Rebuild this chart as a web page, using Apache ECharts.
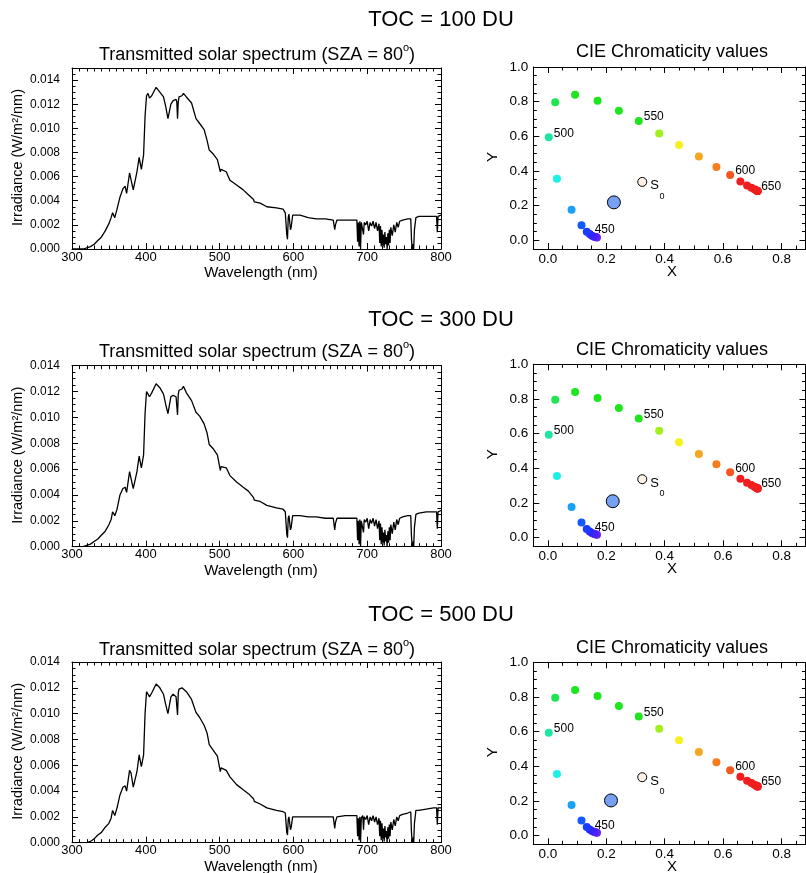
<!DOCTYPE html>
<html><head><meta charset="utf-8">
<script src="https://cdn.jsdelivr.net/npm/echarts@6/dist/echarts.min.js"></script>
<style>html,body{margin:0;padding:0;background:#fff}#c{width:806px;height:873px}</style>
</head><body><div id="c"></div>
<script>
// ---------------- DATA ----------------
const rowTitles = ['TOC = 100 DU', 'TOC = 300 DU', 'TOC = 500 DU'];
const specTitle = 'Transmitted solar spectrum (SZA = 80';
const cieTitle = 'CIE Chromaticity values';

const wavelength = [300,310,315,320,325,330,335,340,345,350,
353,355,358,361,365,369,372,374,378,380,
383,388,391,394,397,399,401,403,405,408,
414,419,424,427,430,434,437,441,442,443,
444,445,449,451,455,462,468,473,479,483,
486,491,497,501,502,504,509,514,523,532,
539,546,547,555,564,577,586,589,591,592,
593,594,596,597,599,609,620,631,643,654,
656,657,659,670,680,686,687,688,689,690,
691,692,694,695,696,698,700,702,704,706,
708,710,712,714,716,717,718,719,720,721,
722,723,724,725,726,727,728,729,730,731,
732,734,736,738,740,742,744,748,755,759,
760,761,762,763,764,766,770,780,790,794,
795,796,800];

const irr100 = [0,0,0,0.0001,0.0002,0.0004,0.0007,0.0010,0.0015,0.0021,
0.0026,0.0030,0.0026,0.0033,0.0043,0.0050,0.0052,0.0046,0.0063,0.0062,
0.0049,0.0064,0.0076,0.0066,0.0078,0.0110,0.0127,0.0129,0.0125,0.0127,
0.0134,0.0130,0.0126,0.0118,0.0108,0.0120,0.0123,0.0124,0.0122,0.0108,
0.0122,0.0126,0.0127,0.0129,0.0126,0.0121,0.0108,0.0104,0.0099,0.0090,
0.0082,0.0079,0.0074,0.0064,0.0066,0.0067,0.0064,0.0057,0.0053,0.0049,
0.0045,0.0041,0.0039,0.0038,0.0035,0.0034,0.0033,0.0030,0.0012,0.0008,
0.0026,0.0029,0.0016,0.0018,0.0028,0.0028,0.0026,0.0025,0.0025,0.0024,
0.0016,0.0020,0.0024,0.0024,0.0024,0.0024,0.0006,0.0022,0.0002,0.0023,
0.0000,0.0022,0.0023,0.0012,0.0022,0.0020,0.0023,0.0015,0.0022,0.0019,
0.0023,0.0017,0.0022,0.0015,0.0021,0.0005,0.0019,0.0002,0.0016,0.0003,
0.0012,0.0001,0.0014,0.0004,0.0010,0.0000,0.0013,0.0003,0.0016,0.0005,
0.0018,0.0011,0.0020,0.0014,0.0022,0.0018,0.0023,0.0024,0.0025,0.0025,
0.0008,0.0000,0.0004,0.0000,0.0016,0.0026,0.0027,0.0027,0.0027,0.0027,
0.0014,0.0027,0.0028];

const irr300 = [0,0,0,0.0001,0.0002,0.0004,0.0006,0.0009,0.0012,0.0017,
0.0021,0.0027,0.0024,0.0029,0.0040,0.0045,0.0046,0.0042,0.0058,0.0057,
0.0045,0.0058,0.0070,0.0061,0.0071,0.0103,0.0120,0.0118,0.0116,0.0119,
0.0126,0.0123,0.0118,0.0110,0.0103,0.0116,0.0117,0.0116,0.0115,0.0102,
0.0118,0.0121,0.0122,0.0124,0.0119,0.0113,0.0104,0.0101,0.0095,0.0088,
0.0079,0.0076,0.0071,0.0059,0.0062,0.0063,0.0061,0.0055,0.0050,0.0046,
0.0043,0.0038,0.0036,0.0035,0.0032,0.0030,0.0029,0.0027,0.0010,0.0007,
0.0022,0.0024,0.0013,0.0015,0.0024,0.0024,0.0023,0.0023,0.0022,0.0022,
0.0013,0.0018,0.0022,0.0022,0.0022,0.0022,0.0005,0.0020,0.0002,0.0021,
0.0000,0.0020,0.0021,0.0011,0.0021,0.0019,0.0022,0.0014,0.0021,0.0018,
0.0022,0.0016,0.0021,0.0014,0.0020,0.0005,0.0018,0.0002,0.0015,0.0003,
0.0011,0.0001,0.0013,0.0004,0.0009,0.0000,0.0012,0.0003,0.0015,0.0005,
0.0017,0.0010,0.0019,0.0013,0.0021,0.0017,0.0022,0.0023,0.0024,0.0024,
0.0008,0.0000,0.0004,0.0000,0.0015,0.0025,0.0026,0.0027,0.0027,0.0027,
0.0014,0.0027,0.0028];

const irr500 = [0,0,0,0,0.0001,0.0003,0.0006,0.0008,0.0012,0.0015,
0.0019,0.0025,0.0021,0.0027,0.0037,0.0043,0.0044,0.0040,0.0056,0.0054,
0.0043,0.0055,0.0068,0.0059,0.0068,0.0100,0.0117,0.0115,0.0113,0.0116,
0.0123,0.0120,0.0115,0.0107,0.0100,0.0113,0.0115,0.0113,0.0112,0.0099,
0.0116,0.0119,0.0120,0.0121,0.0117,0.0111,0.0101,0.0097,0.0091,0.0085,
0.0076,0.0072,0.0067,0.0055,0.0058,0.0059,0.0056,0.0051,0.0045,0.0041,
0.0038,0.0034,0.0032,0.0030,0.0027,0.0025,0.0024,0.0023,0.0008,0.0006,
0.0018,0.0020,0.0010,0.0012,0.0020,0.0020,0.0020,0.0020,0.0020,0.0020,
0.0011,0.0016,0.0020,0.0021,0.0021,0.0021,0.0005,0.0019,0.0002,0.0020,
0.0000,0.0019,0.0021,0.0010,0.0020,0.0018,0.0021,0.0014,0.0020,0.0017,
0.0021,0.0016,0.0020,0.0014,0.0019,0.0005,0.0017,0.0002,0.0015,0.0003,
0.0011,0.0001,0.0013,0.0004,0.0009,0.0000,0.0012,0.0003,0.0014,0.0005,
0.0016,0.0010,0.0018,0.0013,0.0020,0.0017,0.0021,0.0022,0.0023,0.0024,
0.0008,0.0000,0.0004,0.0000,0.0015,0.0025,0.0025,0.0026,0.0027,0.0027,
0.0014,0.0027,0.0027];

const irradiance = [irr100, irr300, irr500];
const specYMax = [0.015, 0.014, 0.014];
const specXTicks = [300, 400, 500, 600, 700, 800];
const specYTicks = [0, 0.002, 0.004, 0.006, 0.008, 0.010, 0.012, 0.014];

// CIE spectral locus (10 nm steps)
const locusWl = [400,410,420,430,440,450,460,470,480,490,500,510,520,530,540,550,560,570,580,590,600,610,620,630,640,650,660,670,680,690,700];
const locusX = [0.168,0.166,0.163,0.158,0.151,0.143,0.133,0.115,0.081,0.031,0.003,0.025,0.093,0.170,0.243,0.311,0.381,0.449,0.517,0.577,0.624,0.659,0.682,0.697,0.707,0.713,0.716,0.717,0.718,0.718,0.718];
const locusY = [0.017,0.018,0.019,0.021,0.027,0.036,0.050,0.087,0.177,0.356,0.594,0.796,0.840,0.806,0.748,0.688,0.617,0.550,0.483,0.423,0.377,0.340,0.317,0.304,0.294,0.289,0.286,0.285,0.284,0.284,0.284];
const locusColors = ['#7422f0','#6a22f4','#5e22f8','#4e22fa','#3e22fc','#2e26fc','#1a3cff','#125aff','#1aa0f5','#1ef0e6','#1ee6a0','#1ee650','#1ee61e','#1ee61e','#1ee61e','#1ee61e','#a0f01e','#f5f01e','#f5a51e','#f57d1e','#f5561e','#f01e1e','#f01e1e','#f01e1e','#f01e1e','#f01e1e','#f01e1e','#f01e1e','#f01e1e','#f01e1e','#f01e1e'];
const labeledWl = [450, 500, 550, 600, 650];

// Chromaticity of transmitted light (big circle) per TOC, and of the source S0
const sunX = [0.226, 0.222, 0.216];
const sunY = [0.219, 0.210, 0.203];
const s0X = [0.323, 0.323, 0.323];
const s0Y = [0.337, 0.337, 0.337];
const cieXTicks = [0.0, 0.2, 0.4, 0.6, 0.8];
const cieYTicks = [0.0, 0.2, 0.4, 0.6, 0.8, 1.0];

// ---------------- BUILD ----------------
const FONT = '"Liberation Sans", Arial, Helvetica, sans-serif';
const chart = echarts.init(document.getElementById('c'), null, {renderer: 'canvas'});
const grids = [], xAxes = [], yAxes = [], series = [], graphics = [];

function r6(v) { return Math.round(v * 1e6) / 1e6; }
function steps(a, b, s) { const out = []; const n = Math.floor((b - a) / s + 1e-6); for (let i = 0; i <= n; i++) out.push(r6(a + i * s)); return out; }

function addAxes(dim, gi, pos, min, max, majors, minors, label) {
  const arr = dim === 'x' ? xAxes : yAxes;
  const base = {type: 'value', gridIndex: gi, position: pos, min: min, max: max, splitLine: {show: false}, splitArea: {show: false}, silent: true};
  const idx = arr.length;
  arr.push(Object.assign({}, base, {
    axisLine: {show: true, onZero: false, lineStyle: {color: '#000', width: 1}},
    axisTick: {show: true, inside: true, length: 6, customValues: majors, lineStyle: {color: '#000', width: 1}},
    axisLabel: label ? Object.assign({show: true, customValues: majors, color: '#000', fontFamily: FONT}, label) : {show: false}
  }));
  arr.push(Object.assign({}, base, {
    axisLine: {show: false, onZero: false},
    axisTick: {show: true, inside: true, length: 3.5, customValues: minors, lineStyle: {color: '#000', width: 1}},
    axisLabel: {show: false}
  }));
  return idx;
}

function text(x, y, str, size, opts) {
  graphics.push(Object.assign({
    type: 'text', x: x, y: y, silent: true,
    style: {text: str, fontSize: size, fontFamily: FONT, fill: '#000', align: 'center', verticalAlign: 'middle'}
  }, opts || {}));
}

const specTop = [68, 365.7, 662];
const specH = [181, 181, 180.7];
const cieTop = [67, 364.3, 662.3];
const rowTitleY = [20, 320, 615];
const subTitleY = [53, 350.5, 648.5];
const CIE_LEFT = 533.3, CIE_W = 272.2, CIE_H = 182;
const cieXMin = -0.05, cieXMax = 0.882, cieYMin = -0.05, cieYMax = 1.0;

for (let r = 0; r < 3; r++) {
  // ---- spectrum panel ----
  const gS = grids.length;
  grids.push({left: 72, top: specTop[r], width: 369, height: specH[r], containLabel: false, outerBoundsMode: 'none'});
  const sxMin = specXTicks[0], sxMax = specXTicks[specXTicks.length - 1];
  const sxMinor = steps(sxMin, sxMax, 10);
  const syMinor = steps(0, specYMax[r], 0.0005);
  const xi = addAxes('x', gS, 'bottom', sxMin, sxMax, specXTicks, sxMinor, {fontSize: 13, margin: 1.5, formatter: v => String(Math.round(v))});
  addAxes('x', gS, 'top', sxMin, sxMax, specXTicks, sxMinor, null);
  const yi = addAxes('y', gS, 'left', 0, specYMax[r], specYTicks, syMinor, {fontSize: 12, margin: 12, formatter: v => v.toFixed(3)});
  addAxes('y', gS, 'right', 0, specYMax[r], specYTicks, syMinor, null);
  series.push({
    type: 'line', xAxisIndex: xi, yAxisIndex: yi, silent: true, animation: false,
    symbol: 'none', showSymbol: false, clip: true,
    lineStyle: {color: '#000', width: 1.3},
    data: wavelength.map((w, i) => [w, irradiance[r][i]])
  });

  // ---- chromaticity panel ----
  const gC = grids.length;
  grids.push({left: CIE_LEFT, top: cieTop[r], width: CIE_W, height: CIE_H, containLabel: false, outerBoundsMode: 'none'});
  const cxMinor = steps(cieXMin, cieXMax, 0.05);
  const cyMinor = steps(cieYMin, cieYMax, 0.05);
  const cxi = addAxes('x', gC, 'bottom', cieXMin, cieXMax, cieXTicks, cxMinor, {fontSize: 13.5, margin: 3, formatter: v => v.toFixed(1)});
  addAxes('x', gC, 'top', cieXMin, cieXMax, cieXTicks, cxMinor, null);
  const cyi = addAxes('y', gC, 'left', cieYMin, cieYMax, cieYTicks, cyMinor, {fontSize: 13.5, margin: 5, formatter: v => v.toFixed(1)});
  addAxes('y', gC, 'right', cieYMin, cieYMax, cieYTicks, cyMinor, null);

  series.push({
    type: 'scatter', xAxisIndex: cxi, yAxisIndex: cyi, silent: true, animation: false,
    symbolSize: 8,
    itemStyle: {opacity: 1},
    label: {show: false, position: 'right', distance: 1, offset: [0, -4], color: '#000', fontSize: 12, fontFamily: FONT},
    data: locusWl.map((w, i) => {
      const d = {value: [locusX[i], locusY[i]], itemStyle: {color: locusColors[i], opacity: 1}};
      if (labeledWl.indexOf(w) >= 0) d.label = {show: true, formatter: String(w)};
      return d;
    })
  });
  series.push({
    type: 'scatter', xAxisIndex: cxi, yAxisIndex: cyi, silent: true, animation: false,
    symbolSize: 13,
    itemStyle: {color: '#78a0f2', borderColor: '#000', borderWidth: 1, opacity: 1},
    data: [[sunX[r], sunY[r]]]
  });
  series.push({
    type: 'scatter', xAxisIndex: cxi, yAxisIndex: cyi, silent: true, animation: false,
    symbolSize: 9,
    itemStyle: {color: '#fdf0e4', borderColor: '#000', borderWidth: 1, opacity: 1},
    label: {
      show: true, position: 'right', distance: 3, offset: [0, 4],
      formatter: '{a|S}{b|0}',
      rich: {
        a: {fontSize: 13, lineHeight: 13, verticalAlign: 'top', color: '#000', fontFamily: FONT},
        b: {fontSize: 9, lineHeight: 9, padding: [12.5, 0, 0, 0.5], verticalAlign: 'top', color: '#000', fontFamily: FONT}
      }
    },
    data: [[s0X[r], s0Y[r]]]
  });

  // ---- texts ----
  text(441, rowTitleY[r], rowTitles[r], 22);
  graphics.push({
    type: 'text', x: 257, y: subTitleY[r], silent: true,
    style: {
      text: '{t|' + specTitle + '}{s|o}{t|)}', align: 'center', verticalAlign: 'middle', fill: '#000',
      rich: {
        t: {fontSize: 18, lineHeight: 22, fontFamily: FONT, fill: '#000', verticalAlign: 'bottom'},
        s: {fontSize: 11, lineHeight: 12, fontFamily: FONT, fill: '#000', verticalAlign: 'top'}
      }
    }
  });
  text(672, subTitleY[r] - 0.5, cieTitle, 18);
  text(18, specTop[r] + specH[r] / 2 - 1, 'Irradiance (W/m\u00B2/nm)', 14.5, {rotation: Math.PI / 2});
  text(261, specTop[r] + specH[r] + 24, 'Wavelength (nm)', 15);
  text(672, cieTop[r] + CIE_H + 23, 'X', 15);
  text(493, cieTop[r] + 90, 'Y', 15, {rotation: Math.PI / 2});
}

chart.setOption({
  animation: false,
  backgroundColor: '#fff',
  grid: grids,
  xAxis: xAxes,
  yAxis: yAxes,
  series: series,
  graphic: {elements: graphics}
});
</script>
</body></html>
